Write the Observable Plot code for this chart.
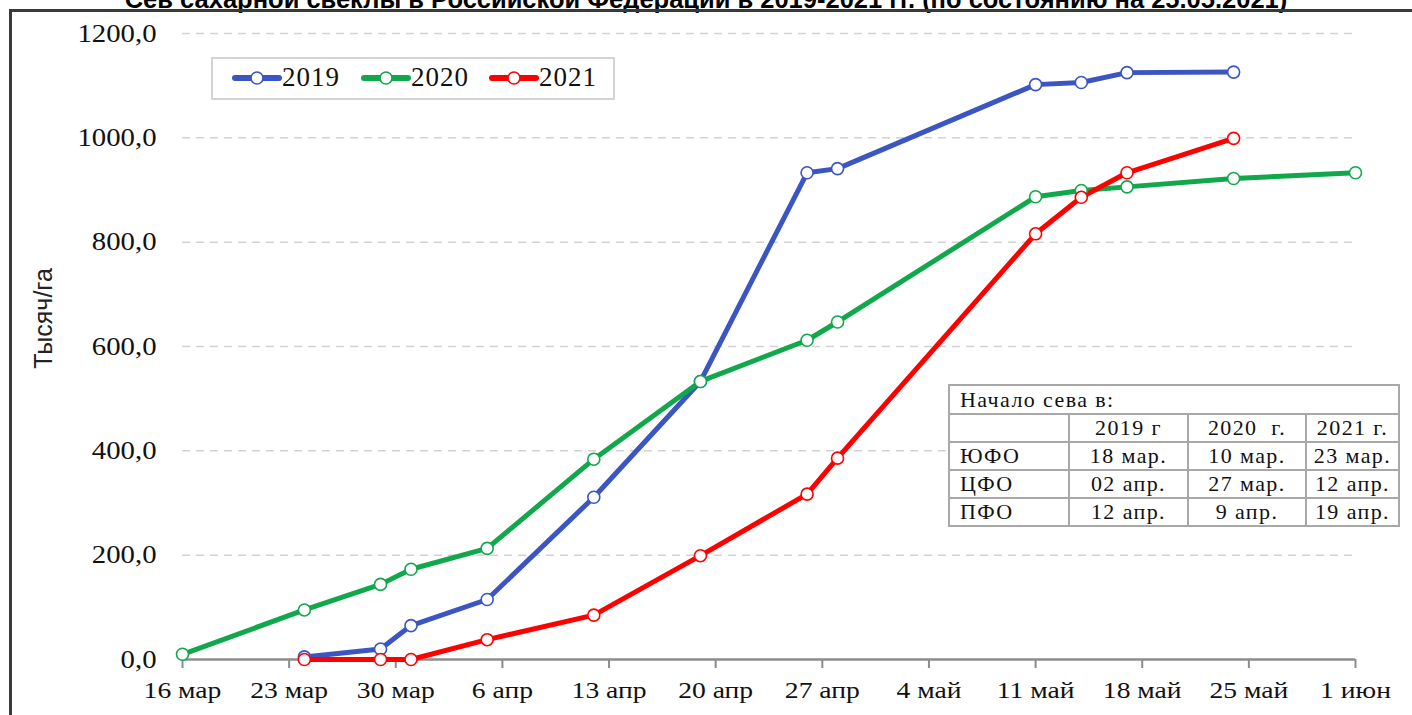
<!DOCTYPE html>
<html>
<head>
<meta charset="utf-8">
<script src="https://cdn.jsdelivr.net/npm/d3@7"></script>
<script src="https://cdn.jsdelivr.net/npm/@observablehq/plot@0.6"></script>
<style>
  html, body { margin: 0; padding: 0; background: #fff; }
  #wrap { position: relative; width: 1412px; height: 715px; overflow: hidden; background: #fff; }
  #title { position: absolute; left: 0; width: 1412px; top: -14px; text-align: center;
    font: bold 25.5px "Liberation Sans", Arial, sans-serif; line-height: 26px; color: #000; white-space: nowrap; }
  #frame { position: absolute; left: 9px; top: 9px; width: 1500px; height: 800px;
    border-top: 3px solid #3a3a3a; border-left: 3px solid #3a3a3a; }
  #chart { position: absolute; left: 0; top: 0; }
  #legend { position: absolute; left: 211px; top: 57px; width: 400px; height: 39px;
    border: 2px solid #d4d4d4; background: #fff; font: 27px "Liberation Serif", serif; letter-spacing: 1px; color: #111; }
  #legend .item { position: absolute; top: 3px; display: flex; align-items: center; }
  #legend svg { display: block; }
  #tbl { position: absolute; left: 948px; top: 384px; border-collapse: collapse; table-layout: fixed;
    font: 22px "Liberation Serif", serif; letter-spacing: 1.4px; color: #111; background: #fff; }
  #tbl td { border: 2px solid #a8a8a8; height: 25px; padding: 0 1px; text-align: center; white-space: nowrap; overflow: hidden; }
  #tbl td.l { text-align: left; padding-left: 10px; }
</style>
</head>
<body>
<div id="wrap">
  <div id="title"></div>
  <div id="frame"></div>
  <div id="chart"></div>
  <div id="legend"></div>
  <table id="tbl"></table>
</div>
<script>
// ---- data ----
const seriesNames = ["2019", "2020", "2021"];
const seriesColors = ["#3b55c2", "#10a84b", "#ff0000"];

const dates2019 = ["2021-03-24","2021-03-29","2021-03-31","2021-04-05","2021-04-12","2021-04-19","2021-04-26","2021-04-28","2021-05-11","2021-05-14","2021-05-17","2021-05-24"];
const values2019 = [5, 20, 65, 115, 311, 533, 933, 941, 1102, 1106, 1125, 1126];

const dates2020 = ["2021-03-16","2021-03-24","2021-03-29","2021-03-31","2021-04-05","2021-04-12","2021-04-19","2021-04-26","2021-04-28","2021-05-11","2021-05-14","2021-05-17","2021-05-24","2021-06-01"];
const values2020 = [10, 95, 144, 173, 213, 384, 533, 612, 647, 887, 899, 906, 922, 933];

const dates2021 = ["2021-03-24","2021-03-29","2021-03-31","2021-04-05","2021-04-12","2021-04-19","2021-04-26","2021-04-28","2021-05-11","2021-05-14","2021-05-17","2021-05-24"];
const values2021 = [0, 0, 0, 38, 85, 199, 317, 386, 816, 886, 933, 999];

const xTickDates = ["2021-03-16","2021-03-23","2021-03-30","2021-04-06","2021-04-13","2021-04-20","2021-04-27","2021-05-04","2021-05-11","2021-05-18","2021-05-25","2021-06-01"];
const xTickLabels = ["16 мар","23 мар","30 мар","6 апр","13 апр","20 апр","27 апр","4 май","11 май","18 май","25 май","1 июн"];
const yTicks = [0, 200, 400, 600, 800, 1000, 1200];

const titleText = "Сев сахарной свеклы в Российской Федерации в 2019-2021 гг. (по состоянию на 25.05.2021)";
const yLabel = "Тысяч/га";

const tableHeader = "Начало сева в:";
const tableCols = ["2019 г", "2020  г.", "2021 г."];
const tableRows = [
  ["ЮФО", "18 мар.", "10 мар.", "23 мар."],
  ["ЦФО", "02 апр.", "27 мар.", "12 апр."],
  ["ПФО", "12 апр.", "9 апр.", "19 апр."]
];

// ---- build ----
const parse = d3.utcParse("%Y-%m-%d");
const allDates = [dates2019, dates2020, dates2021];
const allValues = [values2019, values2020, values2021];
const data = [];
seriesNames.forEach((s, i) => {
  allDates[i].forEach((d, j) => data.push({series: s, date: parse(d), value: allValues[i][j]}));
});
const tickDates = xTickDates.map(parse);
const labelOf = new Map(tickDates.map((d, i) => [+d, xTickLabels[i]]));

document.getElementById("title").textContent = titleText;

const chart = Plot.plot({
  width: 1412,
  height: 715,
  marginLeft: 182,
  marginRight: 57,
  marginTop: 33,
  marginBottom: 56,
  style: {background: "transparent", fontFamily: "'Liberation Serif', serif", color: "#111"},
  x: {type: "utc", domain: [parse("2021-03-16"), parse("2021-06-01")]},
  y: {domain: [0, 1200]},
  color: {domain: seriesNames, range: seriesColors},
  marks: [
    Plot.gridY(yTicks.filter(d => d > 0), {stroke: "#d2d2d2", strokeOpacity: 1, strokeWidth: 1.5, strokeDasharray: "8,6"}),
    Plot.axisY(yTicks, {
      tickSize: 0, tickPadding: 26, fontSize: 25,
      tickFormat: d => d.toFixed(1).replace(".", ","),
      label: null
    }),
    Plot.text([yLabel], {frameAnchor: "left", textAnchor: "middle", dx: -139, dy: -28, rotate: -90, fontSize: 25,
      fontFamily: "'Liberation Sans Narrow', 'Liberation Sans', sans-serif", fill: "#222"}),
    Plot.ruleY([0], {stroke: "#8c8c8c", strokeWidth: 2.5}),
    Plot.axisX(tickDates, {
      tickSize: 9, tickPadding: 12, fontSize: 24, stroke: "#8c8c8c", strokeWidth: 2,
      tickFormat: d => labelOf.get(+d), label: null
    }),
    Plot.line(data, {x: "date", y: "value", z: "series", stroke: "series", strokeWidth: 5, strokeLinejoin: "round", strokeLinecap: "round"}),
    Plot.dot(data, {x: "date", y: "value", stroke: "series", fill: "#fff", r: 6, strokeWidth: 1.6})
  ]
});
// stretch tick labels horizontally, like the reference's widened type
function stretch(sel, k) {
  chart.querySelectorAll(sel).forEach(t => {
    const tr = t.getAttribute("transform") || "";
    t.setAttribute("transform", tr + ` scale(${k},1)`);
  });
}
stretch('g[aria-label="y-axis tick label"] text', 1.15);
stretch('g[aria-label="x-axis tick label"] text', 1.15);
document.getElementById("chart").appendChild(chart);

// legend
const legend = document.getElementById("legend");
const legendX = [19, 148, 276];
seriesNames.forEach((s, i) => {
  const item = document.createElement("div");
  item.className = "item";
  item.style.left = legendX[i] + "px";
  item.innerHTML = `<svg width="50" height="20"><line x1="3" y1="10" x2="47" y2="10" stroke="${seriesColors[i]}" stroke-width="6" stroke-linecap="round"/><circle cx="25" cy="10" r="6" fill="#fff" stroke="${seriesColors[i]}" stroke-width="1.6"/></svg><span>${s}</span>`;
  legend.appendChild(item);
});

// table
const tbl = document.getElementById("tbl");
const colW = [120, 119, 118, 93];
let html = `<colgroup>` + colW.map(w => `<col style="width:${w}px">`).join("") + `</colgroup>`;
html += `<tr><td class="l" colspan="4" style="height:27px">${tableHeader}</td></tr>`;
html += `<tr><td></td>` + tableCols.map(c => `<td>${c.replace(/ /g, "&nbsp;")}</td>`).join("") + `</tr>`;
tableRows.forEach(r => {
  html += `<tr>` + r.map((c, i) => `<td class="${i === 0 ? "l" : ""}">${c}</td>`).join("") + `</tr>`;
});
tbl.innerHTML = html;
</script>
</body>
</html>
